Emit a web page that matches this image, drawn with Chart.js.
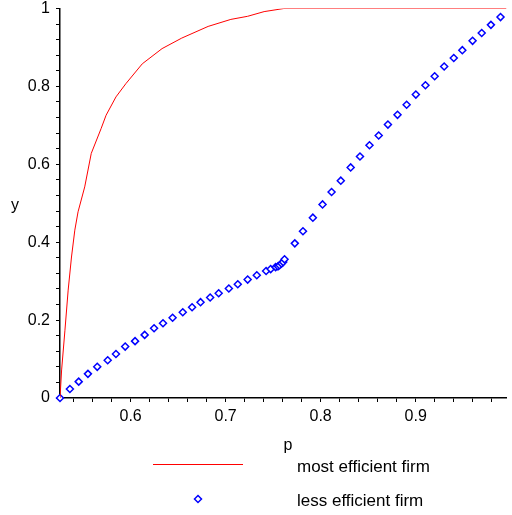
<!DOCTYPE html>
<html>
<head>
<meta charset="utf-8">
<script src="https://cdn.jsdelivr.net/npm/chart.js@4/dist/chart.umd.min.js"></script>
<style>
  html, body { margin: 0; padding: 0; background: #fff; }
  #wrap { width: 512px; height: 515px; }
</style>
</head>
<body>
<div id="wrap"><canvas id="myChart"></canvas></div>
<script>
// Values
const seriesNames = ['most efficient firm', 'less efficient firm'];

// most efficient firm (red curve)
const efficientP = [0.5257, 0.5274, 0.5309, 0.5343, 0.5378, 0.5413, 0.5447, 0.5517, 0.5586, 0.5690,
    0.5742, 0.5846, 0.5950, 0.6123, 0.6331, 0.6538, 0.6816, 0.7055, 0.7232, 0.7405,
    0.7613, 0.9956];
const efficientY = [0, 0.072, 0.174, 0.277, 0.362, 0.431, 0.478, 0.542, 0.628, 0.692,
    0.726, 0.773, 0.807, 0.858, 0.897, 0.924, 0.954, 0.972, 0.980, 0.992,
    1, 1];

// less efficient firm (blue diamonds)
const lessP = [0.5257, 0.5361, 0.5454, 0.5551, 0.5649, 0.5759, 0.5846, 0.5943, 0.6047, 0.6148,
    0.6247, 0.6341, 0.6442, 0.6549, 0.6647, 0.6736, 0.6837, 0.6927, 0.7034, 0.7128,
    0.7232, 0.7328, 0.7426, 0.7474, 0.7526, 0.7551, 0.7568, 0.7588, 0.7606, 0.7620,
    0.7728, 0.7814, 0.7918, 0.8020, 0.8115, 0.8212, 0.8316, 0.8414, 0.8514, 0.8611,
    0.8708, 0.8809, 0.8905, 0.9002, 0.9103, 0.9200, 0.9300, 0.9401, 0.9491, 0.9599,
    0.9695, 0.9792, 0.9893];
const lessY = [0, 0.023, 0.042, 0.062, 0.080, 0.097, 0.113, 0.132, 0.146, 0.162,
    0.179, 0.192, 0.206, 0.220, 0.233, 0.246, 0.258, 0.269, 0.281, 0.292,
    0.304, 0.315, 0.326, 0.331, 0.336, 0.338, 0.341, 0.345, 0.349, 0.356,
    0.397, 0.428, 0.463, 0.497, 0.529, 0.558, 0.592, 0.620, 0.649, 0.674,
    0.702, 0.727, 0.753, 0.779, 0.803, 0.826, 0.851, 0.873, 0.893, 0.917,
    0.937, 0.958, 0.978];

// axis ranges / tick steps
const xRange = [0.5257, 0.9956];
const yRange = [0, 1];
const xStep = 0.02, xLabelEvery = 0.1;
const yStep = 0.04, yLabelEvery = 0.2;

const FONT = 'Liberation Sans, Arial, sans-serif';

const toPoints = (xs, ys) => xs.map((x, i) => ({ x: x, y: ys[i] }));

const isMultiple = (v, m) => Math.abs(v / m - Math.round(v / m)) < 1e-6;

// axis titles and the legend are drawn below the plot like the original
const extras = {
    id: 'extras',
    afterDraw(chart) {
        const ctx = chart.ctx;
        ctx.save();
        ctx.fillStyle = '#000';
        ctx.font = '16px ' + FONT;
        ctx.textBaseline = 'alphabetic';
        ctx.textAlign = 'center';
        ctx.fillText('y', 15, 210);
        ctx.fillText('p', 288, 450);

        ctx.textAlign = 'left';
        ctx.font = '17px ' + FONT;
        const ds = chart.data.datasets;
        // line sample
        ctx.strokeStyle = ds[0].borderColor;
        ctx.lineWidth = 1;
        ctx.beginPath();
        ctx.moveTo(153, 464.5);
        ctx.lineTo(243, 464.5);
        ctx.stroke();
        ctx.fillText(ds[0].label, 297, 471.5);
        // marker sample
        ctx.strokeStyle = ds[1].pointBorderColor;
        ctx.fillStyle = ds[1].pointBackgroundColor;
        ctx.lineWidth = ds[1].pointBorderWidth;
        Chart.helpers.drawPoint(ctx, {
            pointStyle: 'rectRot', radius: ds[1].pointRadius, borderWidth: ds[1].pointBorderWidth
        }, 198, 499);
        ctx.fillStyle = '#000';
        ctx.fillText(ds[1].label, 297, 506);
        ctx.restore();
    }
};

const config = {
    type: 'scatter',
    data: {
        datasets: [{
            label: seriesNames[0],
            data: toPoints(efficientP, efficientY),
            showLine: true,
            borderColor: '#ff0000',
            borderWidth: 1,
            pointRadius: 0,
            tension: 0,
        }, {
            label: seriesNames[1],
            data: toPoints(lessP, lessY),
            showLine: false,
            pointStyle: 'rectRot',
            pointRadius: 3.5,
            pointBorderWidth: 1.5,
            pointBorderColor: '#0000ff',
            pointBackgroundColor: '#ffffff',
            borderColor: '#0000ff',
            backgroundColor: '#ffffff',
            clip: false,
        }],
    },
    options: {
        responsive: true,
        maintainAspectRatio: false,
        animation: false,
        layout: { padding: { top: 8.5, right: 0, left: 0, bottom: 0 } },
        plugins: {
            legend: { display: false },
            tooltip: { enabled: false },
        },
        scales: {
            x: {
                type: 'linear',
                min: xRange[0],
                max: xRange[1],
                grid: { drawOnChartArea: false, drawTicks: true, tickLength: 4, color: '#000', lineWidth: 1 },
                border: { display: true, color: '#000', width: 1.5 },
                ticks: {
                    stepSize: xStep,
                    includeBounds: false,
                    autoSkip: false,
                    maxRotation: 0,
                    padding: 5,
                    color: '#000',
                    font: { family: FONT, size: 16 },
                    callback: (v) => isMultiple(v, xLabelEvery) ? String(Math.round(v * 10) / 10) : '',
                },
                afterFit(scale) {
                    scale.height = 117;
                    scale.paddingLeft = 0;
                    scale.paddingRight = 0;
                },
            },
            y: {
                type: 'linear',
                min: yRange[0],
                max: yRange[1],
                grid: { drawOnChartArea: false, drawTicks: true, tickLength: 4, color: '#000', lineWidth: 1 },
                border: { display: true, color: '#000', width: 1.5 },
                ticks: {
                    stepSize: yStep,
                    includeBounds: false,
                    autoSkip: false,
                    padding: 6,
                    color: '#000',
                    font: { family: FONT, size: 16 },
                    callback: (v) => isMultiple(v, yLabelEvery) ? String(Math.round(v * 10) / 10) : '',
                },
                afterFit(scale) {
                    scale.width = 60;
                    scale.paddingTop = 0;
                    scale.paddingBottom = 0;
                },
            },
        },
    },
    plugins: [extras],
};

const ctx = document.getElementById('myChart').getContext('2d');
const myChart = new Chart(ctx, config);
</script>
</body>
</html>
